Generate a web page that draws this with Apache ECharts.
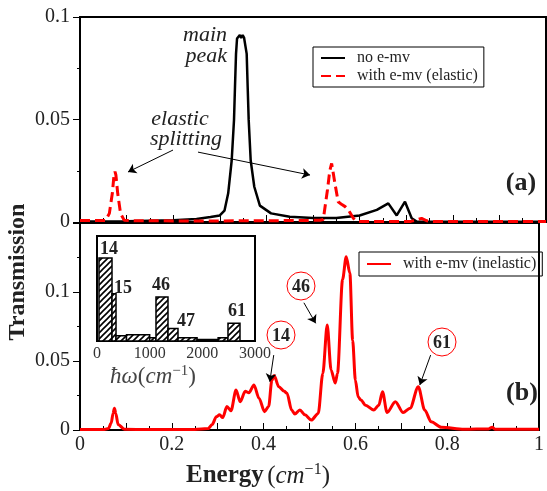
<!DOCTYPE html>
<html>
<head>
<meta charset="utf-8">
<script src="https://cdn.jsdelivr.net/npm/echarts@6/dist/echarts.min.js"></script>
<style>
html, body { margin: 0; padding: 0; background: #fff; }
#chart { width: 547px; height: 491px; }
</style>
</head>
<body>
<div id="chart"></div>
<script>
// panel (a): no e-mv
const energyNoEmv = [0, 0.1, 0.2, 0.25, 0.28, 0.30, 0.31, 0.318, 0.3255, 0.3305, 0.3326, 0.3348, 0.337, 0.340, 0.343, 0.346, 0.349, 0.352, 0.3555, 0.3577, 0.3598, 0.362, 0.3663, 0.374, 0.386, 0.41, 0.45, 0.50, 0.55, 0.60, 0.637, 0.6616, 0.6796, 0.6974, 0.7118, 0.7225, 0.75, 1.0]
const transNoEmv = [0.0003, 0.0004, 0.0008, 0.0015, 0.0024, 0.0032, 0.0055, 0.014, 0.030, 0.0498, 0.066, 0.082, 0.0895, 0.0900, 0.0912, 0.0898, 0.0912, 0.0900, 0.0895, 0.082, 0.066, 0.0498, 0.030, 0.0172, 0.0080, 0.0042, 0.0026, 0.0019, 0.0020, 0.0032, 0.0059, 0.0091, 0.0032, 0.0099, 0.0018, 0.0002, 0.0001, 0.0001]

// panel (a): with e-mv (elastic)
const energyElastic = [0, 0.04, 0.055, 0.063, 0.0694, 0.073, 0.0751, 0.077, 0.0809, 0.087, 0.095, 0.12, 0.25, 0.40, 0.50, 0.515, 0.522, 0.531, 0.536, 0.540, 0.547, 0.554, 0.562, 0.569, 0.576, 0.5866, 0.595, 0.65, 0.71, 0.7225, 0.733, 0.744, 0.76, 1.0]
const transElastic = [0.0007, 0.0007, 0.0008, 0.0042, 0.014, 0.023, 0.0245, 0.023, 0.014, 0.0042, 0.0008, 0.0006, 0.0005, 0.0006, 0.0008, 0.0009, 0.0012, 0.0156, 0.025, 0.0286, 0.0189, 0.0099, 0.0085, 0.0075, 0.0059, 0.0018, 0.0003, 0.0002, 0.0003, 0.001, 0.0018, 0.0006, 0.0002, 0.0002]

// panel (b): with e-mv (inelastic)
const energyInelastic = [0, 0.05, 0.062, 0.068, 0.072, 0.075, 0.078, 0.083, 0.097, 0.15, 0.25, 0.279, 0.288, 0.297, 0.304, 0.311, 0.320, 0.329, 0.340, 0.349, 0.360, 0.368, 0.379, 0.390, 0.402, 0.411, 0.418, 0.423, 0.433, 0.445, 0.451, 0.461, 0.468, 0.479, 0.490, 0.504, 0.519, 0.529, 0.5386, 0.547, 0.556, 0.561, 0.572, 0.580, 0.588, 0.594, 0.600, 0.606, 0.612, 0.622, 0.640, 0.651, 0.659, 0.669, 0.687, 0.704, 0.719, 0.737, 0.751, 0.765, 0.787, 0.837, 0.89, 0.898, 0.905, 1.0]
const transInelastic = [0.0003, 0.0003, 0.001, 0.005, 0.012, 0.0157, 0.012, 0.004, 0.0005, 0.0003, 0.0003, 0.001, 0.004, 0.0096, 0.011, 0.009, 0.017, 0.014, 0.029, 0.0205, 0.028, 0.027, 0.0326, 0.023, 0.0133, 0.017, 0.036, 0.0395, 0.0314, 0.028, 0.0266, 0.0145, 0.0116, 0.0145, 0.011, 0.0072, 0.012, 0.041, 0.076, 0.0435, 0.034, 0.041, 0.109, 0.1256, 0.1135, 0.065, 0.036, 0.024, 0.0217, 0.018, 0.0145, 0.018, 0.0278, 0.0126, 0.0205, 0.0126, 0.0157, 0.0314, 0.0145, 0.006, 0.002, 0.0005, 0.0008, 0.002, 0.0005, 0.0005]

// inset: vibrational mode weights, bins in cm^-1
const modeFrom = [38, 285, 361, 560, 1000, 1120, 1348, 1538, 1900, 2300, 2487]
const modeTo = [285, 361, 560, 1000, 1120, 1348, 1538, 1900, 2300, 2487, 2715]
const modeWeight = [0.79, 0.45, 0.05, 0.06, 0.03, 0.42, 0.12, 0.03, 0.015, 0.03, 0.17]

const SERIF = '"Liberation Serif", "DejaVu Serif", serif'
const zip = (xs, ys) => xs.map((x, i) => [x, ys[i]])

// hatch fill for the inset bars
const hatch = document.createElement('canvas')
hatch.width = 6
hatch.height = 6
const hc = hatch.getContext('2d')
hc.fillStyle = '#fff'
hc.fillRect(0, 0, 6, 6)
hc.strokeStyle = '#000'
hc.lineWidth = 1.6
hc.beginPath()
hc.moveTo(0, 6); hc.lineTo(6, 0)
hc.moveTo(-1, 1); hc.lineTo(1, -1)
hc.moveTo(5, 7); hc.lineTo(7, 5)
hc.stroke()

const numLabel = v => String(+v.toFixed(3))

const xAxisBase = {
    type: 'value', min: 0, max: 1, interval: 0.1,
    axisLine: { show: false },
    axisTick: { inside: true, length: 7, lineStyle: { color: '#000', width: 1 } },
    minorTick: { show: true, splitNumber: 2, length: 4, lineStyle: { color: '#000', width: 1 } },
    splitLine: { show: false }
}
const yAxisBase = {
    type: 'value', min: 0, interval: 0.05,
    axisLine: { show: false },
    axisTick: { inside: false, length: 7, lineStyle: { color: '#000', width: 1 } },
    minorTick: { show: true, splitNumber: 2, length: 3, lineStyle: { color: '#000', width: 1 } },
    splitLine: { show: false },
    axisLabel: { fontFamily: SERIF, fontSize: 20, color: '#222', margin: 10 }
}

// arrows, in data coordinates of each panel
const arrow = (a, b) => [{ coord: a }, { coord: b }]
const arrowStyle = {
    silent: true, symbol: ['none', 'arrow'], symbolSize: 8,
    label: { show: false },
    lineStyle: { color: '#000', width: 1, type: 'solid' }
}

const legendBase = {
    orient: 'vertical',
    borderColor: '#000', borderWidth: 1, borderRadius: 0,
    itemWidth: 24, itemHeight: 14,
    // hide the marker the line icon carries, keep the line
    itemStyle: { color: 'rgba(0,0,0,0)', borderWidth: 0 },
    textStyle: { fontFamily: SERIF, fontSize: 16, color: '#222', padding: [0, 0, 0, 7] }
}

const textEl = (x, y, text, font, extra) => Object.assign({
    type: 'text', x, y, z: 100,
    style: { text, font, fill: '#222', textAlign: 'center', textVerticalAlign: 'middle' }
}, extra || {})

const circled = (x, y, text) => ({
    type: 'group', x, y, z: 100,
    children: [
        { type: 'circle', shape: { cx: 0, cy: 0, r: 14 }, style: { fill: '#fff', stroke: '#f00', lineWidth: 1 } },
        { type: 'text', style: { text, x: 0, y: 1, font: 'bold 18px ' + SERIF, fill: '#222', textAlign: 'center', textVerticalAlign: 'middle' } }
    ]
})

const chart = echarts.init(document.getElementById('chart'))
chart.setOption({
    animation: false,
    backgroundColor: '#fff',
    grid: [
        { left: 80, top: 17, width: 466, height: 205, show: true, borderColor: '#000', borderWidth: 2, backgroundColor: 'transparent' },
        { left: 80, top: 223, width: 466, height: 207, show: true, borderColor: '#000', borderWidth: 2, backgroundColor: 'transparent' },
        { left: 97, top: 236, width: 158, height: 105, show: true, borderColor: '#000', borderWidth: 2, backgroundColor: '#fff' }
    ],
    xAxis: [
        Object.assign({}, xAxisBase, { gridIndex: 0, axisLabel: { show: false } }),
        Object.assign({}, xAxisBase, {
            gridIndex: 1,
            axisLabel: {
                fontFamily: SERIF, fontSize: 20, color: '#222', margin: 5,
                formatter: v => (Math.round(v * 10) % 2 === 0 ? numLabel(v) : '')
            }
        }),
        {
            gridIndex: 2, type: 'value', min: 0, max: 3000, interval: 1000,
            axisLine: { show: false }, axisTick: { show: false }, splitLine: { show: false },
            axisLabel: { fontFamily: SERIF, fontSize: 16, color: '#333', margin: 5, formatter: v => String(v) }
        }
    ],
    yAxis: [
        Object.assign({}, yAxisBase, { gridIndex: 0, max: 0.1, axisLabel: Object.assign({}, yAxisBase.axisLabel, { formatter: numLabel }) }),
        Object.assign({}, yAxisBase, {
            gridIndex: 1, max: 0.15,
            axisLabel: Object.assign({}, yAxisBase.axisLabel, { formatter: v => (v > 0.12 ? '' : numLabel(v)) })
        }),
        {
            gridIndex: 2, type: 'value', min: 0, max: 1,
            axisLine: { show: false }, axisTick: { show: false }, axisLabel: { show: false }, splitLine: { show: false }
        }
    ],
    legend: [
        Object.assign({}, legendBase, {
            data: ['no e-mv', 'with e-mv (elastic)'],
            left: 313, top: 47, padding: [3, 6, 3, 7], itemGap: 2
        }),
        Object.assign({}, legendBase, {
            data: ['with e-mv (inelastic)'],
            left: 359, top: 252, padding: [4, 6, 4, 7]
        })
    ],
    series: [
        {
            name: 'no e-mv', type: 'line', xAxisIndex: 0, yAxisIndex: 0,
            data: zip(energyNoEmv, transNoEmv), symbol: 'none', z: 3,
            lineStyle: { color: '#000', width: 2.5 }, itemStyle: { color: '#000' },
            markLine: Object.assign({}, arrowStyle, {
                data: [
                    arrow([0.1996, 0.0351], [0.1030, 0.0244]),
                    arrow([0.2532, 0.0341], [0.4936, 0.0229])
                ]
            })
        },
        {
            name: 'with e-mv (elastic)', type: 'line', xAxisIndex: 0, yAxisIndex: 0,
            data: zip(energyElastic, transElastic), symbol: 'none', z: 4,
            lineStyle: { color: '#f00', width: 3, type: [10, 5] }, itemStyle: { color: '#f00' }
        },
        {
            name: 'with e-mv (inelastic)', type: 'line', xAxisIndex: 1, yAxisIndex: 1,
            data: zip(energyInelastic, transInelastic), symbol: 'none', z: 3,
            smooth: 0.3, smoothMonotone: 'x',
            lineStyle: { color: '#f00', width: 3 }, itemStyle: { color: '#f00' },
            markLine: Object.assign({}, arrowStyle, {
                data: [
                    arrow([0.4221, 0.0543], [0.4135, 0.0350]),
                    arrow([0.4878, 0.0922], [0.5135, 0.0773]),
                    arrow([0.7639, 0.0543], [0.7403, 0.0326])
                ]
            })
        },
        {
            type: 'custom', xAxisIndex: 2, yAxisIndex: 2, z: 5,
            data: modeFrom.map((f, i) => [f, modeTo[i], modeWeight[i]]),
            encode: { x: [0, 1], y: 2 },
            renderItem(params, api) {
                const p0 = api.coord([api.value(0), api.value(2)])
                const p1 = api.coord([api.value(1), 0])
                return {
                    type: 'rect',
                    shape: { x: p0[0], y: p0[1], width: p1[0] - p0[0], height: p1[1] - p0[1] },
                    style: { fill: { image: hatch, repeat: 'repeat' }, stroke: '#000', lineWidth: 1.5 }
                }
            }
        }
    ],
    graphic: [
        textEl(227, 35, 'main', 'italic 22px ' + SERIF, { style: { text: 'main', font: 'italic 22px ' + SERIF, fill: '#222', textAlign: 'right', textVerticalAlign: 'middle' } }),
        textEl(227, 56, 'peak', 'italic 22px ' + SERIF, { style: { text: 'peak', font: 'italic 22px ' + SERIF, fill: '#222', textAlign: 'right', textVerticalAlign: 'middle' } }),
        textEl(180, 119, 'elastic', 'italic 22px ' + SERIF),
        textEl(186, 139, 'splitting', 'italic 22px ' + SERIF),
        textEl(521, 183, '(a)', 'bold 26px ' + SERIF),
        textEl(522, 393, '(b)', 'bold 26px ' + SERIF),
        textEl(18, 272, 'Transmission', 'bold 24px ' + SERIF, { rotation: Math.PI / 2 }),
        textEl(258, 476, 'Energy (cm⁻¹)', 'bold 25px ' + SERIF, {
            style: {
                text: '{b|Energy} {p|(}{i|cm}{s|−1}{p|)}',
                textAlign: 'center', textVerticalAlign: 'middle', fill: '#222',
                rich: {
                    b: { font: 'bold 25px ' + SERIF, fill: '#222' },
                    p: { font: '25px ' + SERIF, fill: '#222' },
                    i: { font: 'italic 25px ' + SERIF, fill: '#222' },
                    s: { font: '16px ' + SERIF, fill: '#222', verticalAlign: 'top', padding: [0, 0, 12, 0] }
                }
            }
        }),
        textEl(153, 377, 'ħω(cm⁻¹)', '22px ' + SERIF, {
            style: {
                text: '{i|ħω}{p|(}{i|cm}{s|−1}{p|)}',
                textAlign: 'center', textVerticalAlign: 'middle', fill: '#444',
                rich: {
                    p: { font: '23px ' + SERIF, fill: '#444' },
                    i: { font: 'italic 23px ' + SERIF, fill: '#444' },
                    s: { font: '15px ' + SERIF, fill: '#444', verticalAlign: 'top', padding: [0, 0, 11, 0] }
                }
            }
        }),
        textEl(109, 249, '14', 'bold 18px ' + SERIF),
        textEl(123, 288, '15', 'bold 18px ' + SERIF),
        textEl(161, 285, '46', 'bold 18px ' + SERIF),
        textEl(186, 321, '47', 'bold 18px ' + SERIF),
        textEl(237, 311, '61', 'bold 18px ' + SERIF),
        circled(301, 286, '46'),
        circled(281, 335, '14'),
        circled(442, 342, '61')
    ]
})
</script>
</body>
</html>
